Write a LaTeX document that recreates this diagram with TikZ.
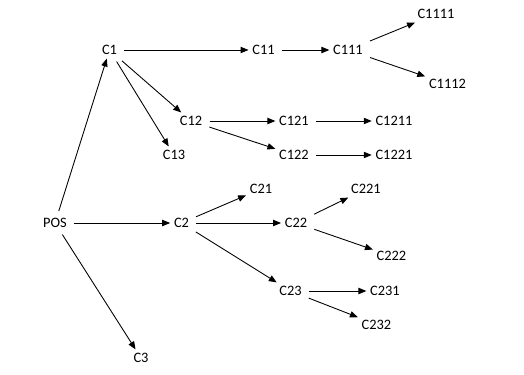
\documentclass[tikz,border=0pt]{standalone}
\usepackage{fontspec}
\setmainfont{Carlito}
\usetikzlibrary{arrows.meta}

\begin{document}
\begin{tikzpicture}[x=0.02cm,y=-0.02cm,
  lbl/.style={inner sep=2pt,font=\fontsize{8.2}{10}\selectfont},
  arr/.style={-{Triangle[length=4.5pt,width=3.6pt]},line width=0.5pt,shorten <=2pt}
]
  \useasboundingbox (0,0) rectangle (524,375);
  % root and first level
  \node[lbl] (pos)   at (55,223)    {POS};
  \node[lbl] (c1)    at (109.5,50)  {C1};
  \node[lbl] (c2)    at (181.5,223) {C2};
  \node[lbl] (c3)    at (141,358)   {C3};
  % branch C1
  \node[lbl] (c11)   at (263.5,50)  {C11};
  \node[lbl] (c12)   at (191,121)   {C12};
  \node[lbl] (c13)   at (174,155)   {C13};
  \node[lbl] (c111)  at (348,50)    {C111};
  \node[lbl] (c1111) at (436,14)    {C1111};
  \node[lbl] (c1112) at (447.5,84)  {C1112};
  \node[lbl] (c121)  at (294,121)   {C121};
  \node[lbl] (c122)  at (294,155)   {C122};
  \node[lbl] (c1211) at (394,121)   {C1211};
  \node[lbl] (c1221) at (394,155)   {C1221};
  % branch C2
  \node[lbl] (c21)   at (261,189)   {C21};
  \node[lbl] (c22)   at (296,223)   {C22};
  \node[lbl] (c23)   at (290.5,291) {C23};
  \node[lbl] (c221)  at (366,189)   {C221};
  \node[lbl] (c222)  at (391.5,256) {C222};
  \node[lbl] (c231)  at (385,291)   {C231};
  \node[lbl] (c232)  at (376.5,324.5) {C232};
  % connectors
  \draw[arr](pos)--(c1); \draw[arr](pos)--(c2); \draw[arr](pos)--(c3);
  \draw[arr](c1)--(c11); \draw[arr](c1)--(c12); \draw[arr](c1)--(c13);
  \draw[arr](c11)--(c111);
  \draw[arr](c111)--(c1111); \draw[arr](c111)--(c1112);
  \draw[arr](c12)--(c121); \draw[arr](c12)--(c122);
  \draw[arr](c121)--(c1211); \draw[arr](c122)--(c1221);
  \draw[arr](c2)--(c21); \draw[arr](c2)--(c22); \draw[arr](c2)--(c23);
  \draw[arr](c22)--(c221); \draw[arr](c22)--(c222);
  \draw[arr](c23)--(c231); \draw[arr](c23)--(c232);
\end{tikzpicture}
\end{document}
